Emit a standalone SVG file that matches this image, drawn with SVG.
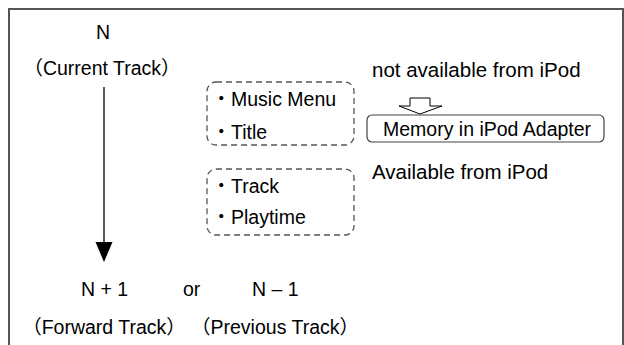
<svg xmlns="http://www.w3.org/2000/svg" width="624" height="345" viewBox="0 0 624 345">
<style>
text{font-family:"Liberation Sans","Noto Sans CJK JP",Arial,sans-serif;font-size:19.5px;fill:#000}
.big{font-size:20.5px}
.mid{text-anchor:middle}
.dash{fill:none;stroke:#555;stroke-width:1.3;stroke-dasharray:6 4}
</style>
<rect x="9" y="9" width="614" height="400" fill="#fff" stroke="#555" stroke-width="2"/>
<g id="connectors">
<line x1="104" y1="87" x2="104" y2="245" stroke="#000" stroke-width="1.3"/>
<polygon points="95.5,242 112.5,242 104,262" fill="#000"/>
<polygon points="410,98 430,98 430,106 442,106 420,114 399,106 410,106" fill="#fff" stroke="#000" stroke-width="1"/>
</g>
<g id="current">
<text class="mid" x="103" y="39">N</text>
<text class="mid" x="102" y="75">（Current Track）</text>
</g>
<g id="next">
<text x="81" y="296">N + 1</text>
<text x="183" y="296">or</text>
<text x="252" y="296">N – 1</text>
<text class="mid" x="104" y="334">（Forward Track）</text>
<text class="mid" x="275" y="334">（Previous Track）</text>
</g>
<g id="box-unavailable">
<rect class="dash" x="207" y="82" width="147" height="63" rx="9"/>
<text x="211.5" y="106">・Music Menu</text>
<text x="211.5" y="139">・Title</text>
</g>
<g id="box-available">
<rect class="dash" x="207" y="169" width="147" height="66" rx="9"/>
<text x="211.5" y="193">・Track</text>
<text x="211.5" y="224">・Playtime</text>
</g>
<g id="label-not">
<text class="big" x="372" y="77">not available from iPod</text>
</g>
<g id="memory">
<rect x="367" y="115" width="237" height="27" rx="5" fill="#fff" stroke="#444" stroke-width="1.2"/>
<text x="383" y="136">Memory in iPod Adapter</text>
</g>
<g id="label-available">
<text class="big" x="372" y="179">Available from iPod</text>
</g>
</svg>
